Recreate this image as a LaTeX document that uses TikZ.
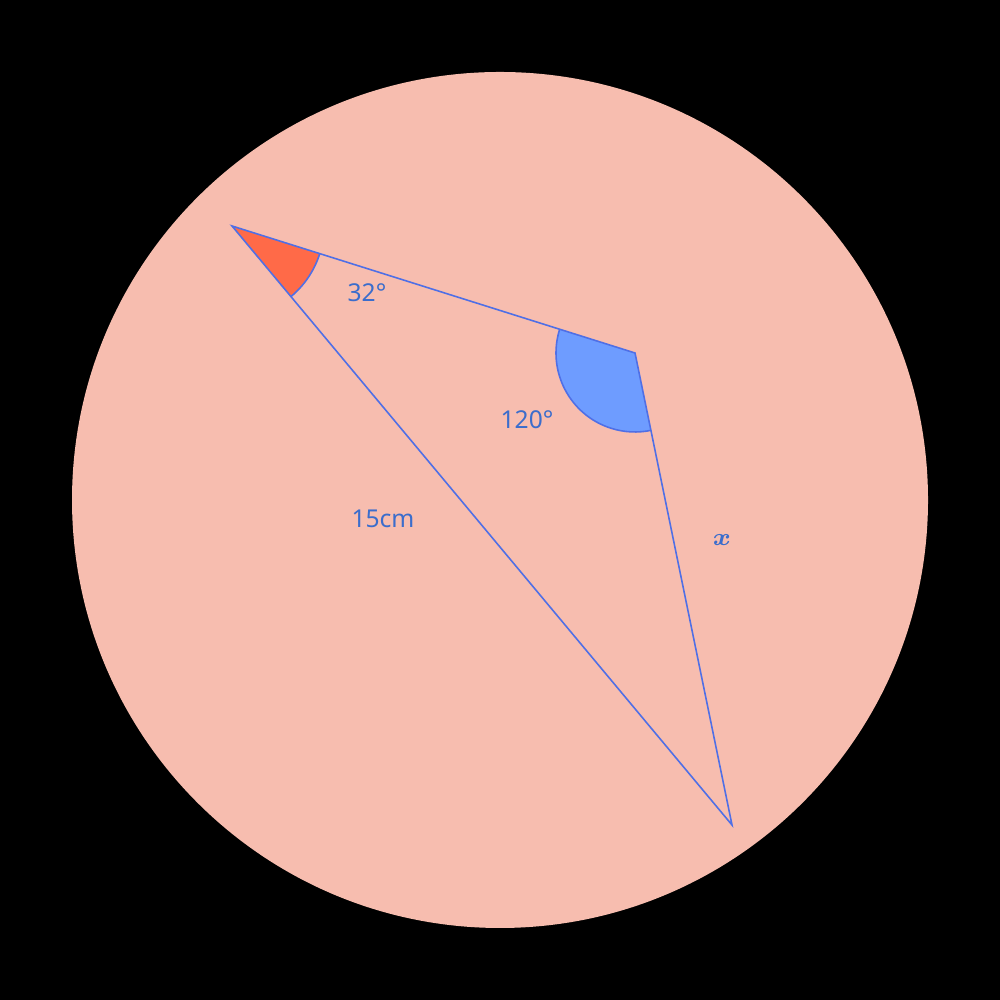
\documentclass[tikz,border=0pt]{standalone}
\usepackage{amsmath}
\usepackage{fontspec}
\setmainfont{Noto Sans}
\usetikzlibrary{calc,angles,positioning}
\definecolor{disc}{HTML}{F7BDAF}
\definecolor{edgeblue}{HTML}{4F6FE6}
\definecolor{labelblue}{HTML}{3B6DCC}
\definecolor{wedgered}{HTML}{FF6A48}
\definecolor{wedgeblue}{HTML}{6E9CFF}
\begin{document}
\begin{tikzpicture}[line width=0.45pt, font=\fontsize{7}{9}\selectfont,
	side/.style={draw=edgeblue},
	lbl/.style={text=labelblue, inner sep=0pt}]
	\fill[black] (0,0) rectangle (10,10);
	\fill[disc] (5,5) circle (4.28);
	% triangle corners
	\coordinate (A) at (2.32,7.74);
	\coordinate (B) at (6.35,6.47);
	\coordinate (C) at (7.32,1.75);
	\pic[fill=wedgered, draw=edgeblue, angle radius=0.92cm] {angle=C--A--B};
	\pic[fill=wedgeblue, draw=edgeblue, angle radius=0.79cm] {angle=A--B--C};
	\path[side] (A) -- (B) -- (C) -- cycle;
	\node[lbl] (a_lbl) at (3.67,7.07) {32°};
	\node[lbl] (b_lbl) at (5.27,5.80) {120°};
	\node[lbl] (ac_lbl) at (3.83,4.81) {15cm};
	\node[lbl] (bc_lbl) at (7.22,4.60) {$\boldsymbol{x}$};
\end{tikzpicture}
\end{document}
